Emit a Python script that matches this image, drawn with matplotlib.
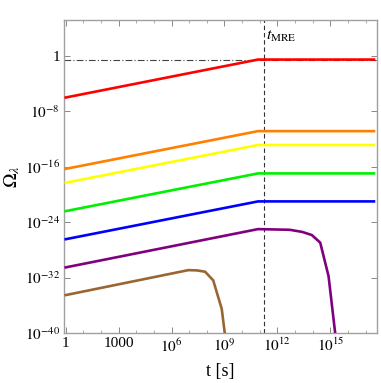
import matplotlib
matplotlib.use("Agg")
import matplotlib.pyplot as plt
from matplotlib.ticker import FixedLocator, NullFormatter

plt.rcParams['font.family'] = ['Liberation Serif', 'DejaVu Serif']
plt.rcParams['mathtext.fontset'] = 'stix'

# ---- data ----
t_mono = [1, 8e10, 3e17]
omega_red = [1e-6, 3e-1, 3e-1]
omega_orange = [5e-17, 1.4e-11, 1.4e-11]
omega_yellow = [5e-19, 1.4e-13, 1.4e-13]
omega_green = [4e-23, 1.1e-17, 1.1e-17]
omega_blue = [3.5e-27, 1e-21, 1e-21]

t_purple = [1, 8e10, 5e12, 2.5e13, 9e13, 2.7e14, 8e14, 2e15]
omega_purple = [3e-31, 1e-25, 8e-26, 4e-26, 1.4e-26, 1.1e-27, 1.6e-32, 3e-41]

t_brown = [1, 9e6, 2.7e7, 8e7, 2.3e8, 7e8, 1.1e9]
omega_brown = [3e-35, 1.2e-31, 1.1e-31, 7e-32, 4e-33, 3e-37, 3e-41]

t_mre = 1.8e11
omega_ref = 3e-1

x_ticks = [1, 1e3, 1e6, 1e9, 1e12, 1e15]
x_tick_labels = ['1', '1000', r'$10^{6}$', r'$10^{9}$', r'$10^{12}$', r'$10^{15}$']
y_ticks = [1, 1e-8, 1e-16, 1e-24, 1e-32, 1e-40]
y_tick_labels = ['1', r'$10^{-8}$', r'$10^{-16}$', r'$10^{-24}$', r'$10^{-32}$', r'$10^{-40}$']

colors = {
    'red': '#ff0000', 'orange': '#ff8000', 'yellow': '#ffff00',
    'green': '#00f000', 'blue': '#0000ff', 'purple': '#800080', 'brown': '#996633'
}

fig = plt.figure(figsize=(3.81, 3.83), dpi=100)
ax = fig.add_axes([0.168, 0.1305, 0.8215, 0.8175])
ax.set_xscale('log')
ax.set_yscale('log')
ax.set_xlim(10**-0.1, 10**17.65)
ax.set_ylim(1e-40, 10**5.2)

lw = 1.9
ax.axhline(omega_ref, color='#444444', lw=0.8, ls=(0, (6, 2, 1, 2)), zorder=1)
ax.axvline(t_mre, color='#333333', lw=0.8, ls=(0, (4, 2.5)), zorder=1)

ax.plot(t_mono, omega_red, color=colors['red'], lw=lw, zorder=3)
ax.plot(t_mono, omega_orange, color=colors['orange'], lw=lw, zorder=3)
ax.plot(t_mono, omega_yellow, color=colors['yellow'], lw=lw, zorder=3)
ax.plot(t_mono, omega_green, color=colors['green'], lw=lw, zorder=3)
ax.plot(t_mono, omega_blue, color=colors['blue'], lw=lw, zorder=3)
ax.plot(t_purple, omega_purple, color=colors['purple'], lw=lw, zorder=3)
ax.plot(t_brown, omega_brown, color=colors['brown'], lw=lw, zorder=3)

ax.text(t_mre * 1.3, 10**2.9, r'$t_{\mathrm{MRE}}$', fontsize=11.5, ha='left', va='center')

for s in ax.spines.values():
    s.set_color('#a0a0a0')
    s.set_linewidth(1.0)

ax.xaxis.set_major_locator(FixedLocator(x_ticks))
ax.set_xticklabels(x_tick_labels)
ax.yaxis.set_major_locator(FixedLocator(y_ticks))
ax.set_yticklabels(y_tick_labels)
minor_x = [10**k for k in range(0, 18) if k % 3 != 0]
ax.xaxis.set_minor_locator(FixedLocator(minor_x))
ax.xaxis.set_minor_formatter(NullFormatter())
ax.yaxis.set_minor_locator(FixedLocator([]))
ax.tick_params(which='major', direction='in', length=4, width=0.7, color='#888888',
               top=True, right=True, labelsize=11, pad=3)
ax.tick_params(which='minor', direction='in', length=2, width=0.5, color='#888888',
               top=True, right=True)

ax.set_xlabel('t [s]', fontsize=13, labelpad=6)
ax.set_ylabel(r'$\Omega_{\lambda}$', fontsize=14, labelpad=2)

fig.savefig('out.png', dpi=100)
